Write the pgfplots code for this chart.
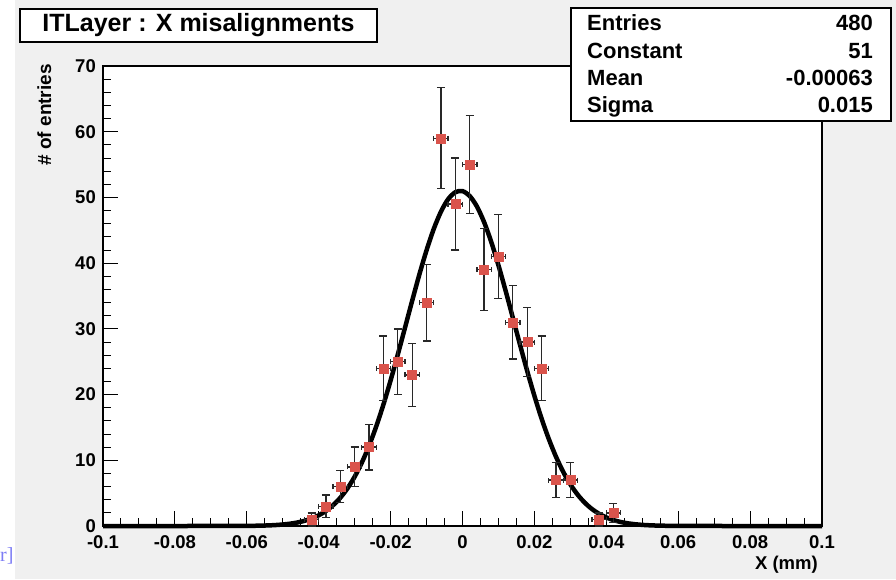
\documentclass[border=0pt]{standalone}
\usepackage{pgfplots}
\pgfplotsset{compat=1.18}
\usepackage{pgfplotstable}
\usepackage{fontspec}
\setmainfont{Liberation Sans}
\newfontfamily\seriffont{Liberation Serif}
\definecolor{rootgray}{RGB}{240,240,240}
\definecolor{markred}{RGB}{218,84,76}
\definecolor{linkblue}{RGB}{125,125,245}
\definecolor{barcol}{RGB}{40,40,40}

\pgfplotstableread{
x y ex ey
-0.042 1 0.002 1
-0.038 3 0.002 1.732
-0.034 6 0.002 2.449
-0.030 9 0.002 3
-0.026 12 0.002 3.464
-0.022 24 0.002 4.899
-0.018 25 0.002 5
-0.014 23 0.002 4.796
-0.010 34 0.002 5.831
-0.006 59 0.002 7.681
-0.002 49 0.002 7
0.002 55 0.002 7.416
0.006 39 0.002 6.245
0.010 41 0.002 6.403
0.014 31 0.002 5.568
0.018 28 0.002 5.292
0.022 24 0.002 4.899
0.026 7 0.002 2.646
0.030 7 0.002 2.646
0.038 1 0.002 1
0.042 2 0.002 1.414
}\histdata

\pgfplotstableread{
x f
-0.100 0.0
-0.080 0.0002
-0.070 0.002
-0.064 0.006
-0.060 0.020
-0.058 0.034
-0.056 0.056
-0.054 0.091
-0.052 0.145
-0.050 0.227
-0.048 0.348
-0.046 0.526
-0.044 0.780
-0.042 1.137
-0.040 1.627
-0.038 2.290
-0.036 3.164
-0.034 4.292
-0.032 5.725
-0.030 7.500
-0.028 9.651
-0.026 12.20
-0.024 15.15
-0.022 18.48
-0.020 22.15
-0.018 26.09
-0.016 30.17
-0.014 34.28
-0.012 38.27
-0.010 41.96
-0.008 45.20
-0.006 47.83
-0.004 49.73
-0.002 50.79
0.000 50.96
0.002 50.22
0.004 48.63
0.006 46.25
0.008 43.22
0.010 39.67
0.012 35.78
0.014 31.69
0.016 27.58
0.018 23.58
0.020 19.81
0.022 16.34
0.024 13.25
0.026 10.55
0.028 8.250
0.030 6.339
0.032 4.787
0.034 3.550
0.036 2.586
0.038 1.851
0.040 1.302
0.042 0.899
0.044 0.610
0.046 0.406
0.048 0.266
0.050 0.171
0.052 0.108
0.054 0.067
0.056 0.041
0.058 0.025
0.060 0.015
0.064 0.005
0.070 0.001
0.080 0.0001
0.100 0.0
}\fitdata

\begin{document}
\begin{tikzpicture}[x=1pt,y=1pt]
\fill[white] (0,0) rectangle (896,579);
\fill[rootgray] (15,0) rectangle (896,579);
\node[anchor=base west, inner sep=0pt, text=linkblue, font=\seriffont\fontsize{20}{20}\selectfont] at (0,18) {r]};

\begin{axis}[
  at={(103pt,53pt)}, anchor=south west,
  scale only axis, width=719pt, height=460pt,
  xmin=-0.1, xmax=0.1, ymin=0, ymax=70,
  clip=false,
  axis background/.style={fill=white},
  axis line style={black, line width=1.5pt},
  tick pos=left, tick align=inside,
  major tick length=15pt, minor tick length=8pt,
  tick style={black, line width=1pt},
  xtick={-0.1,-0.08,-0.06,-0.04,-0.02,0,0.02,0.04,0.06,0.08,0.1},
  xticklabels={-0.1,-0.08,-0.06,-0.04,-0.02,0,0.02,0.04,0.06,0.08,0.1},
  minor x tick num=3,
  ytick={0,10,20,30,40,50,60,70},
  yticklabels={0,10,20,30,40,50,60,70},
  minor y tick num=4,
  xticklabel style={font=\bfseries\fontsize{18.5}{18.5}\selectfont, inner sep=0pt, anchor=north, yshift=-9pt},
  yticklabel style={font=\bfseries\fontsize{18.5}{18.5}\selectfont, inner sep=0pt, anchor=east, xshift=-7pt},
]
\addplot[color=black, line width=4.5pt, smooth, no marks] table[x=x, y=f] {\fitdata};
\addplot[draw=none, color=barcol, mark=none, line width=1.3pt,
  error bars/.cd, y dir=both, y explicit,
  error bar style={barcol, line width=1.3pt},
  error mark options={barcol, line width=1.3pt, mark size=4pt, rotate=90}]
  table[x=x, y=y, y error=ey] {\histdata};
\addplot[draw=none, color=barcol, mark=none,
  error bars/.cd, x dir=both, x explicit,
  error bar style={barcol, line width=1.3pt},
  error mark options={barcol, line width=1.3pt, mark size=2.5pt, rotate=90}]
  table[x=x, y=y, x error=ex] {\histdata};
\addplot[only marks, mark=square*, mark size=4.5pt, mark options={fill=markred, draw=markred}]
  table[x=x, y=y] {\histdata};
\end{axis}

% y axis title
\node[rotate=90, anchor=base east, inner sep=0pt, font=\bfseries\fontsize{19}{19}\selectfont] at (51,515) {\# of entries};
% x axis title
\node[anchor=base east, inner sep=0pt, font=\bfseries\fontsize{18.5}{18.5}\selectfont] at (818,10) {X (mm)};

% title box
\draw[fill=white, line width=1.2pt] (20,537) rectangle (377,570);
\node[inner sep=0pt, font=\bfseries\fontsize{25}{25}\selectfont] at (198.5,553.5) {ITLayer : X misalignments};

% stats box
\draw[fill=white, line width=1.2pt] (571,458) rectangle (891,571);
\begin{scope}[every node/.style={inner sep=0pt, font=\bfseries\fontsize{22}{22}\selectfont}]
\node[anchor=base west] at (587,548) {Entries};
\node[anchor=base west] at (587,520) {Constant};
\node[anchor=base west] at (587,493) {Mean};
\node[anchor=base west] at (587,466) {Sigma};
\node[anchor=base east] at (873,548) {480};
\node[anchor=base east] at (873,520) {51};
\node[anchor=base east] at (873,493) {-0.00063};
\node[anchor=base east] at (873,466) {0.015};
\end{scope}
\end{tikzpicture}
\end{document}
